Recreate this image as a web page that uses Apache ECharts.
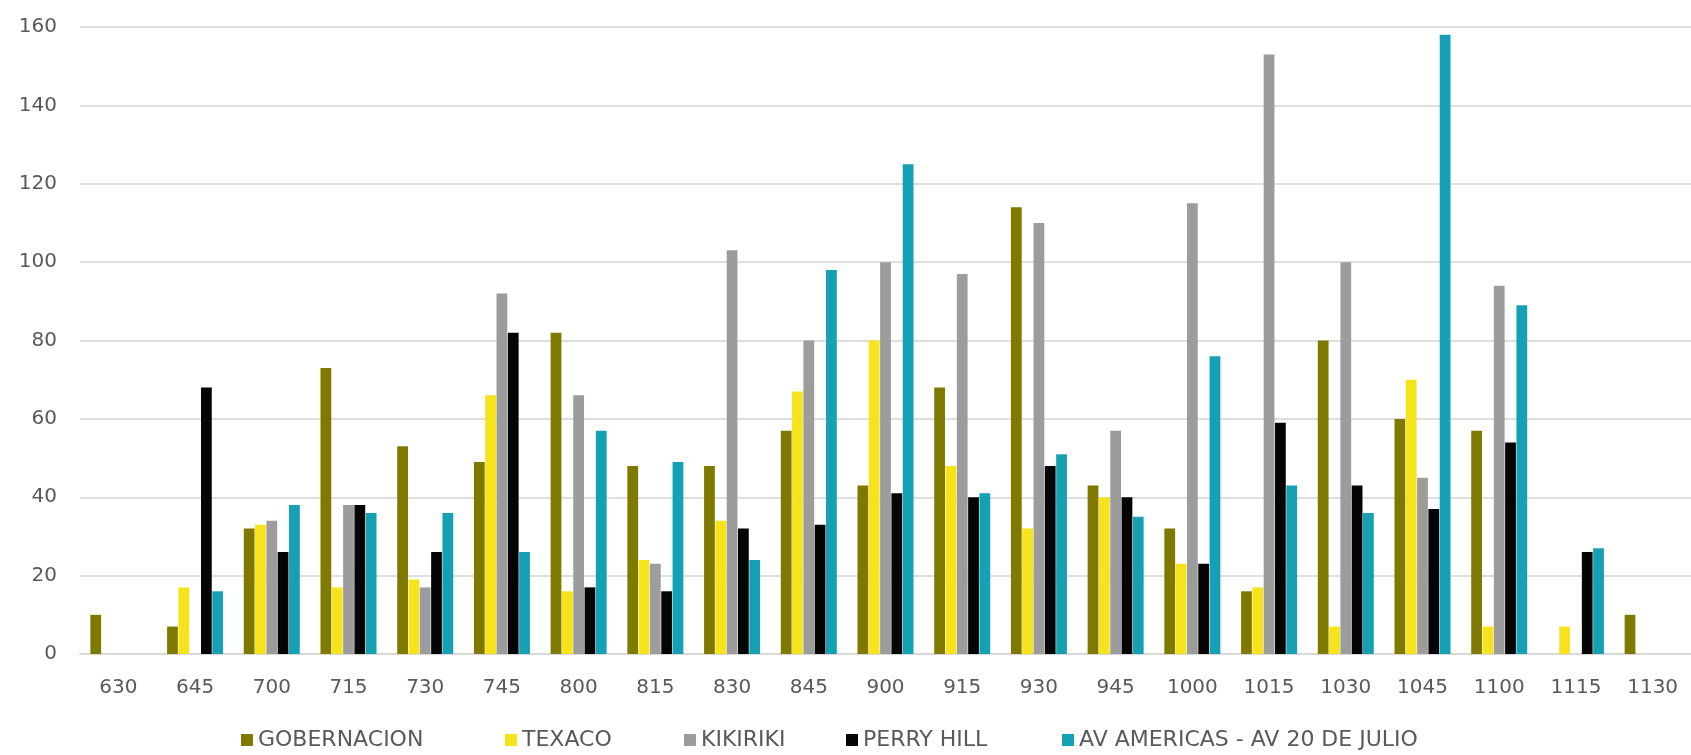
<!DOCTYPE html>
<html>
<head>
<meta charset="utf-8">
<script src="https://cdn.jsdelivr.net/npm/echarts@6/dist/echarts.min.js"></script>
<style>
html,body{margin:0;padding:0;background:#fff;}
#chart{width:1691px;height:755px;}
</style>
</head>
<body>
<div id="chart"></div>
<script>
var categories = ['630','645','700','715','730','745','800','815','830','845','900','915','930','945','1000','1015','1030','1045','1100','1115','1130'];
var seriesNames = ['GOBERNACION','TEXACO','KIKIRIKI','PERRY HILL','AV AMERICAS - AV 20 DE JULIO'];
var gobernacion = [10,7,32,73,53,49,82,48,48,57,43,68,114,43,32,16,80,60,57,0,10];
var texaco      = [0,17,33,17,19,66,16,24,34,67,80,48,32,40,23,17,7,70,7,7,0];
var kikiriki    = [0,0,34,38,17,92,66,23,103,80,100,97,110,57,115,153,100,45,94,0,0];
var perryHill   = [0,68,26,38,26,82,17,16,32,33,41,40,48,40,23,59,43,37,54,26,0];
var avAmericas  = [0,16,38,36,36,26,57,49,24,98,125,41,51,35,76,43,36,158,89,27,0];
var yTicks = [0,20,40,60,80,100,120,140,160];

var colors = ['#7f7900','#f7e31c','#9c9c9c','#050505','#15a0b3'];
var values = [gobernacion, texaco, kikiriki, perryHill, avAmericas];
var legendLeft = [241, 505, 684, 846, 1062];
var font = 'DejaVu Sans';

var chart = echarts.init(document.getElementById('chart'), null, {renderer:'canvas'});
var series = seriesNames.map(function(n,i){
  return {
    name: n, type: 'bar', data: values[i],
    barGap: '5%', barCategoryGap: '27%',
    itemStyle: {color: colors[i]}
  };
});
var legends = seriesNames.map(function(n,i){
  return {
    data: [n], left: legendLeft[i], top: 729, padding: 0,
    icon: 'rect', itemWidth: 12, itemHeight: 12, itemGap: 0,
    textStyle: {fontFamily: font, fontSize: 22, color: '#595959'}
  };
});
chart.setOption({
  animation: false,
  color: colors,
  grid: {left: 80, right: -6, top: 27, bottom: 101, containLabel: false},
  legend: legends,
  xAxis: {
    type: 'category', data: categories,
    axisLine: {show: true, lineStyle: {color: '#d9d9d9', width: 2}},
    axisTick: {show: false},
    axisLabel: {fontFamily: font, fontSize: 20, color: '#595959', margin: 24, interval: 0}
  },
  yAxis: {
    type: 'value', min: yTicks[0], max: yTicks[yTicks.length-1], interval: 20,
    axisLine: {show: false}, axisTick: {show: false},
    axisLabel: {fontFamily: font, fontSize: 20, color: '#595959', margin: 23},
    splitLine: {lineStyle: {color: '#dedede', width: 2}}
  },
  series: series
});
</script>
</body>
</html>
